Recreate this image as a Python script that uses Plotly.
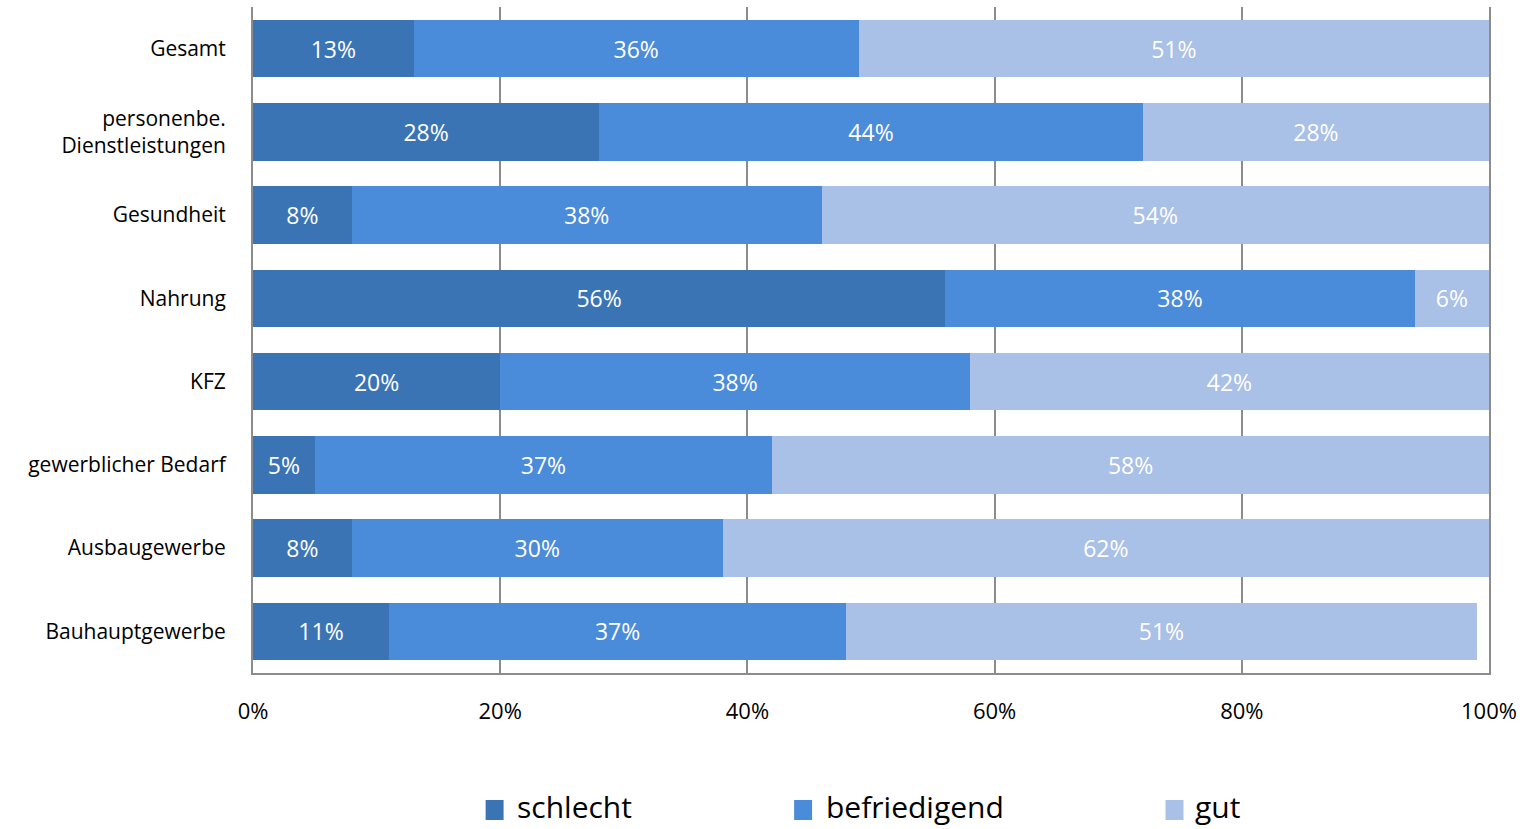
import plotly.graph_objects as go

# Zufriedenheit nach Branche (Anteile in %)
categories = ["Gesamt", "personenbe.<br>Dienstleistungen", "Gesundheit", "Nahrung",
              "KFZ", "gewerblicher Bedarf", "Ausbaugewerbe", "Bauhauptgewerbe"]
schlecht = [13, 28, 8, 56, 20, 5, 8, 11]
befriedigend = [36, 44, 38, 38, 38, 37, 30, 37]
gut = [51, 28, 54, 6, 42, 58, 62, 51]
x_ticks = [0, 20, 40, 60, 80, 100]
x_tick_labels = ["0%", "20%", "40%", "60%", "80%", "100%"]

series = [("schlecht", schlecht, "#3b74b5"),
          ("befriedigend", befriedigend, "#4a8bda"),
          ("gut", gut, "#a9c0e7")]

FONT = "Open Sans"
GRID = "#8c8c8c"
W, H = 1524, 829
ML, MR, MT, MB = 253, 33, 7, 156
PW, PH = W - ML - MR, H - MT - MB


def px_x(x):
    return (x - ML) / PW


def px_y(y):
    return (H - MB - y) / PH


fig = go.Figure()
for name, vals, color in series:
    fig.add_trace(go.Bar(
        y=categories, x=vals, name=name, orientation="h",
        marker=dict(color=color, line=dict(width=0)),
        text=vals, texttemplate="%{text}%", textposition="inside",
        insidetextanchor="middle", constraintext="none",
        textfont=dict(family=FONT, size=23, color="white"),
        showlegend=False, hoverinfo="skip",
    ))

fig.update_layout(
    barmode="stack", bargap=0.31,
    width=W, height=H,
    margin=dict(l=ML, r=MR, t=MT, b=MB),
    plot_bgcolor="white", paper_bgcolor="white",
    font=dict(family=FONT, size=20, color="black"),
    xaxis=dict(range=[0, 100], tickvals=x_ticks, ticktext=x_tick_labels,
               showgrid=True, gridcolor=GRID, gridwidth=2,
               showline=True, linecolor=GRID, linewidth=2,
               zeroline=False, ticks="", ticklabelstandoff=18,
               tickfont=dict(family=FONT, size=22)),
    yaxis=dict(autorange="reversed", showgrid=False,
               showline=True, linecolor=GRID, linewidth=2, mirror=True,
               ticks="", ticklabelstandoff=21,
               tickfont=dict(family=FONT, size=21)),
)

# Legende unterhalb des Diagramms
legend_marker_x = [486, 795, 1167]
legend_text_x = [515, 825, 1195]
for (name, _, color), mx, tx in zip(series, legend_marker_x, legend_text_x):
    fig.add_shape(type="rect", xref="paper", yref="paper",
                  x0=px_x(mx), x1=px_x(mx + 18),
                  y0=px_y(820), y1=px_y(800),
                  fillcolor=color, line=dict(width=0))
    fig.add_annotation(xref="paper", yref="paper",
                       x=px_x(tx), y=px_y(829),
                       xanchor="left", yanchor="bottom", showarrow=False,
                       text=name, font=dict(family=FONT, size=30, color="black"))

fig.write_html("out.html")
